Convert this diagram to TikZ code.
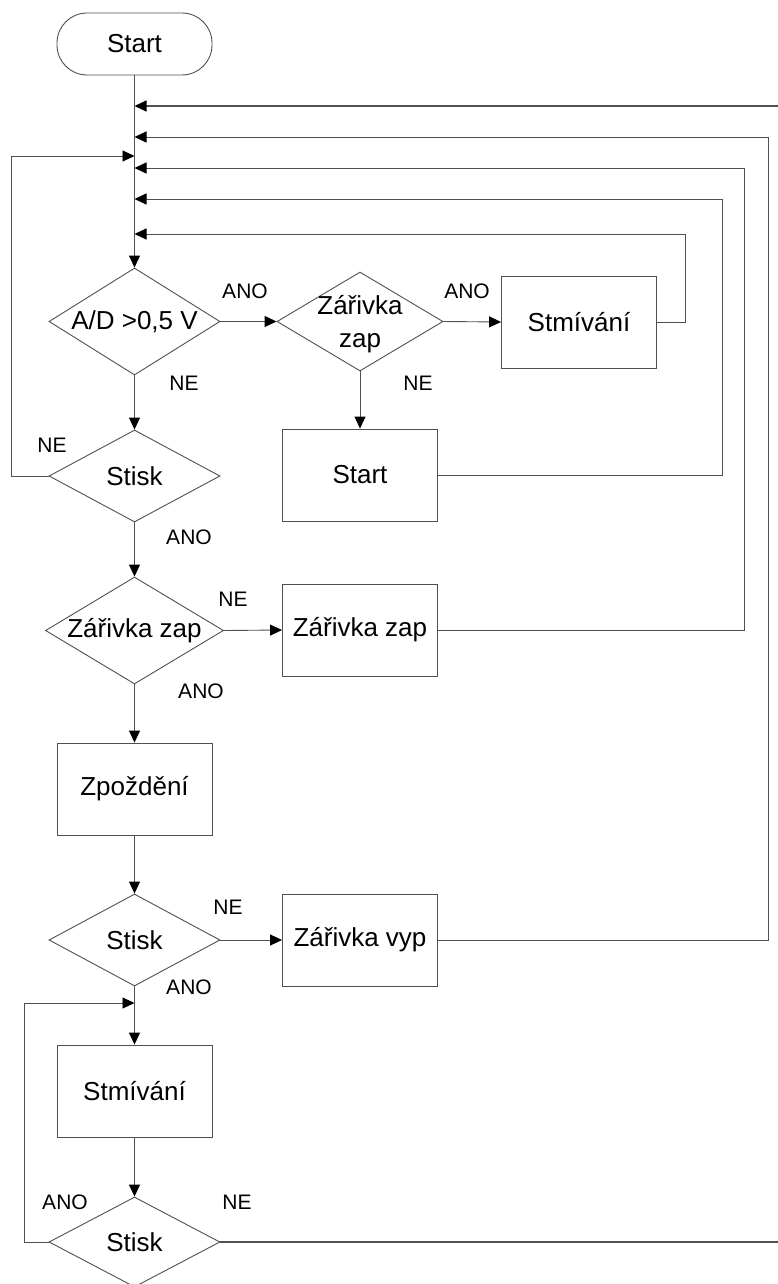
\documentclass[tikz,border=0pt]{standalone}
\usepackage{fontspec}
\setmainfont{Liberation Sans}
\usetikzlibrary{arrows.meta,shapes.geometric}
\definecolor{lc}{HTML}{505050}
\newcommand\mybigfont{\fontsize{26}{33}\selectfont}
\newcommand\mysmallfont{\fontsize{21}{25}\selectfont}
\begin{document}
\begin{tikzpicture}[x=1pt,y=-1pt,
  every node/.style={font=\mybigfont},
  term/.style={draw=lc,line width=0.9pt,rounded corners=30pt,minimum width=155pt,minimum height=62pt,inner sep=0pt},
  box/.style={draw=lc,line width=0.9pt,rectangle,minimum width=155pt,minimum height=92pt,inner sep=0pt},
  dia/.style={draw=lc,line width=0.9pt,diamond,inner sep=0pt},
  lab/.style={font=\mysmallfont,inner sep=0pt},
  conn/.style={draw=lc,line width=0.9pt},
  arr/.style={conn,-{Triangle[length=12pt,width=11pt,color=black]}},
]
\useasboundingbox (0,0) rectangle (778,1284);
\fill[white] (0,0) rectangle (778,1284);

% nodes
\node[term] (start) at (134.5,44) {Start};
\node[dia,minimum width=171pt,minimum height=107pt,label={center:A/D >0,5 V}] (ad) at (134.5,321.5) {};
\node[dia,minimum width=166pt,minimum height=99pt,label={[align=center,yshift=-3pt]center:Zářivka\\zap}] (zz1) at (360,321.5) {};
\node[box] (stm1) at (579,322) {Stmívání};
\node[dia,minimum width=171pt,minimum height=92pt,label={center:Stisk}] (st1) at (134.5,476) {};
\node[box] (startbox) at (360,475) {Start};
\node[dia,minimum width=178pt,minimum height=107pt,label={center:Zářivka zap}] (zz2) at (134.5,630.5) {};
\node[box] (zzbox) at (360,630) {Zářivka zap};
\node[box] (zpo) at (134.5,789) {Zpoždění};
\node[dia,minimum width=171pt,minimum height=92pt,label={center:Stisk}] (st2) at (134.5,940) {};
\node[box] (zvbox) at (360,940) {Zářivka vyp};
\node[box] (stm2) at (134.5,1091) {Stmívání};
\node[dia,minimum width=171pt,minimum height=90pt,label={center:Stisk}] (st3) at (134.5,1242) {};

% junctions on the main line
\coordinate (j1) at (134.5,106);
\coordinate (j2) at (134.5,137);
\coordinate (j3) at (134.5,156);
\coordinate (j4) at (134.5,168);
\coordinate (j5) at (134.5,199);
\coordinate (j6) at (134.5,234);
\coordinate (jb) at (134.5,1003);

% labels
\node[lab] at (245,291) {ANO};
\node[lab] at (467,291) {ANO};
\node[lab] at (184,383) {NE};
\node[lab] at (418,383) {NE};
\node[lab] at (52,445) {NE};
\node[lab] at (189,537) {ANO};
\node[lab] at (233,599) {NE};
\node[lab] at (201,691) {ANO};
\node[lab] at (228,907) {NE};
\node[lab] at (189,987) {ANO};
\node[lab] at (65,1202) {ANO};
\node[lab] at (237,1202) {NE};

% forward connectors
\draw[arr] (start.south) -- (ad.north);
\draw[arr] (ad.east) -- (zz1.west);
\draw[arr] (zz1.east) -- (stm1.west);
\draw[arr] (zz1.south) -- (startbox.north);
\draw[arr] (ad.south) -- (st1.north);
\draw[arr] (st1.south) -- (zz2.north);
\draw[arr] (zz2.east) -- (zzbox.west);
\draw[arr] (zz2.south) -- (zpo.north);
\draw[arr] (zpo.south) -- (st2.north);
\draw[arr] (st2.east) -- (zvbox.west);
\draw[arr] (st2.south) -- (stm2.north);
\draw[arr] (stm2.south) -- (st3.north);

% feedback connectors
\draw[arr] (stm1.east) -- (685,322) -- (685,234) -- (j6);
\draw[arr] (startbox.east) -- (722,475) -- (722,199) -- (j5);
\draw[arr] (zzbox.east) -- (744,630) -- (744,168) -- (j4);
\draw[arr] (zvbox.east) -- (768,940) -- (768,137) -- (j2);
\draw[arr,line width=1.3pt] (st3.east) -- (790,1242) -- (790,106) -- (j1);
\draw[arr] (st1.west) -- (11,476) -- (11,156) -- (j3);
\draw[arr] (st3.west) -- (24,1242) -- (24,1003) -- (jb);
\end{tikzpicture}
\end{document}
